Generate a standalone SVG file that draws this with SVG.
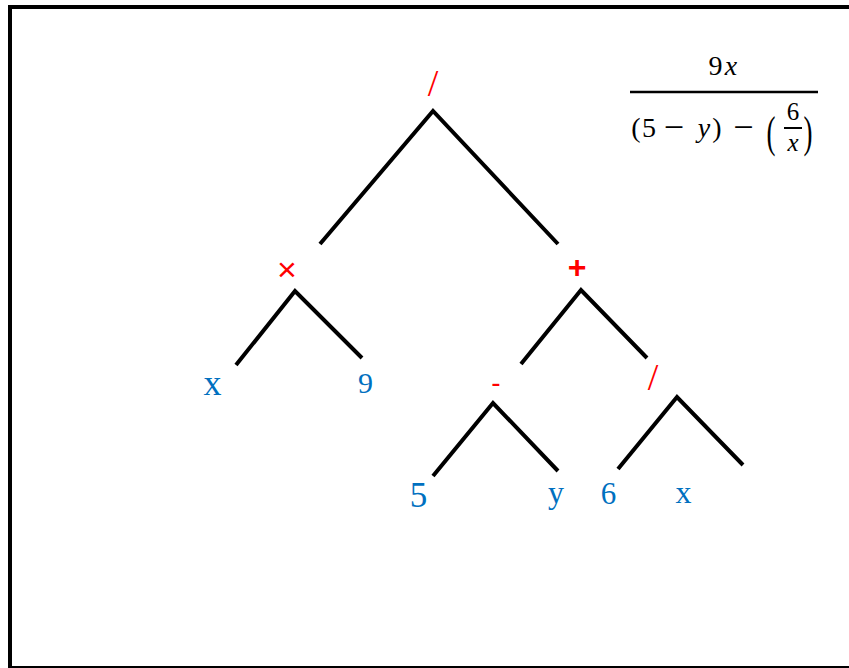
<svg xmlns="http://www.w3.org/2000/svg" width="849" height="668" viewBox="0 0 849 668">
<style>
.edge{fill:none;stroke:#000;stroke-width:4;stroke-linejoin:miter}
.op{fill:#FF0000;text-anchor:middle}
.leaf{fill:#0070C0;font-family:"Liberation Serif","Times New Roman",serif;text-anchor:middle}
.m{font-family:"Liberation Serif","Times New Roman",serif;fill:#000;text-anchor:middle}
.i{font-style:italic}
</style>
<rect width="849" height="668" fill="#fff"/>
<g id="frame">
<line x1="10" y1="5" x2="10" y2="668" stroke="#000" stroke-width="4"/>
<line x1="8" y1="7" x2="849" y2="7" stroke="#000" stroke-width="4"/>
<line x1="8" y1="667" x2="849" y2="667" stroke="#000" stroke-width="2"/>
</g>
<g id="connectors">
<polyline class="edge" points="320,244 433,111 558,244"/>
<polyline class="edge" points="236,365 295,291 362,358"/>
<polyline class="edge" points="521,364 581,290 647,358"/>
<polyline class="edge" points="433,476 493,403 558,471"/>
<polyline class="edge" points="618,469 677,397 743,465"/>
</g>
<g id="n-root"><text class="op" x="433" y="96" font-family="'Liberation Serif',serif" font-size="38">/</text></g>
<g id="n-mul"><text class="op" x="287" y="281" font-family="'Liberation Sans',sans-serif" font-size="34">×</text></g>
<g id="n-plus"><text class="op" x="577" y="278" font-family="'Liberation Sans',sans-serif" font-size="32" font-weight="bold">+</text></g>
<g id="n-minus"><text class="op" x="496" y="392" font-family="'Liberation Sans',sans-serif" font-size="28">-</text></g>
<g id="n-div"><text class="op" x="653" y="390" font-family="'Liberation Serif',serif" font-size="38">/</text></g>
<g id="n-x1"><text class="leaf" x="212.5" y="395" font-size="36">x</text></g>
<g id="n-9"><text class="leaf" x="365.5" y="393" font-size="30">9</text></g>
<g id="n-5"><text class="leaf" x="418.5" y="507" font-size="35">5</text></g>
<g id="n-y"><text class="leaf" x="556" y="503" font-size="32">y</text></g>
<g id="n-6"><text class="leaf" x="608.5" y="504" font-size="31">6</text></g>
<g id="n-x2"><text class="leaf" x="683.5" y="503" font-size="32">x</text></g>
<g id="formula">
<text class="m" x="715.5" y="75" font-size="28">9</text>
<text class="m i" x="731" y="75" font-size="28">x</text>
<line x1="630" y1="92" x2="818" y2="92" stroke="#000" stroke-width="2.5"/>
<text class="m" x="636" y="137" font-size="28">(</text>
<text class="m" x="649" y="137" font-size="28">5</text>
<text class="m" x="674" y="139" font-size="36">−</text>
<text class="m i" x="704" y="137" font-size="28">y</text>
<text class="m" x="717" y="137" font-size="28">)</text>
<text class="m" x="743.5" y="139" font-size="36">−</text>
<text class="m" font-size="30" transform="translate(771,147) scale(0.9,1.5)">(</text>
<text class="m" x="793" y="120" font-size="25">6</text>
<line x1="784" y1="128" x2="802" y2="128" stroke="#000" stroke-width="2"/>
<text class="m i" x="793" y="151" font-size="25">x</text>
<text class="m" font-size="30" transform="translate(808,147) scale(0.9,1.5)">)</text>
</g>
</svg>
